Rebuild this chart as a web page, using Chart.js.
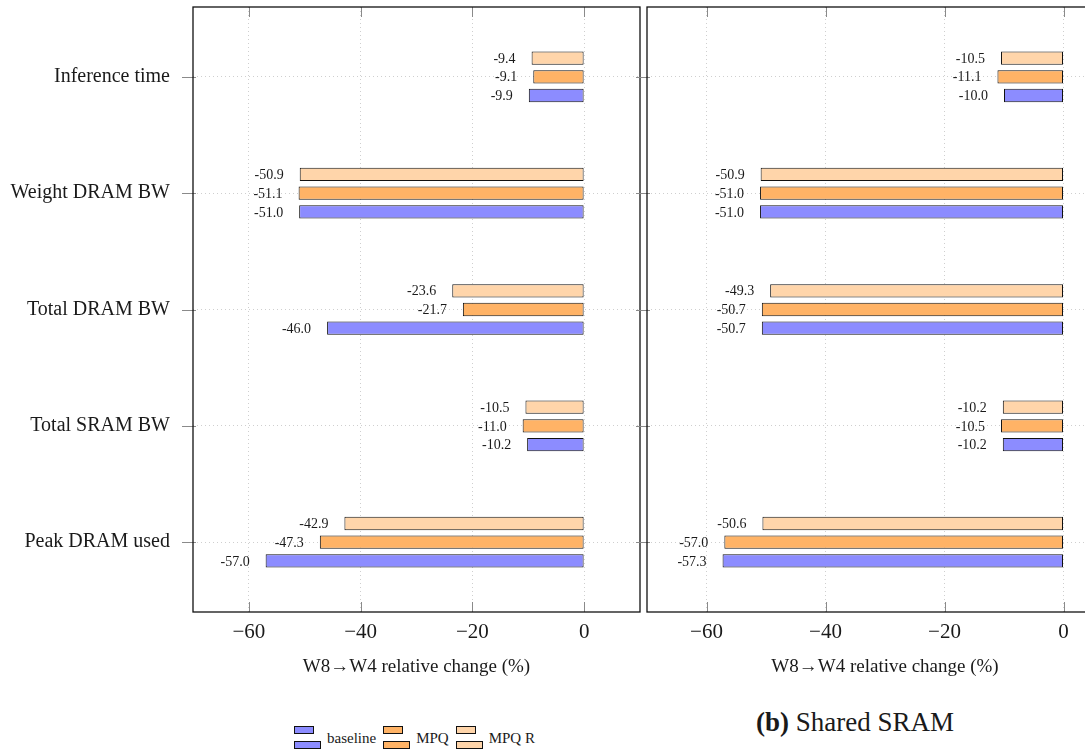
<!DOCTYPE html>
<html>
<head>
<meta charset="utf-8">
<script src="https://cdn.jsdelivr.net/npm/chart.js@4.4.1/dist/chart.umd.min.js"></script>
<style>
html,body{margin:0;padding:0;background:#fff;overflow:hidden;width:1085px;height:753px;}
body{position:relative;font-family:'Liberation Serif','DejaVu Serif',serif;color:#1a1a1a;}
#chartA{position:absolute;left:0;top:0;}
#chartB{position:absolute;left:630px;top:0;}
#legend{position:absolute;left:294px;top:726px;display:flex;align-items:center;font-size:15px;}
.sw{position:relative;width:27px;height:24px;}
.sw div{position:absolute;left:0;height:6px;border:1px solid #111;}
.sw .t{top:0;width:18px;}
.sw .b{top:15px;width:25px;}
.lab{margin:0 7px 0 6px;line-height:24px;}
#caption{position:absolute;left:756px;top:709px;font-size:27px;line-height:27px;white-space:nowrap;}
</style>
</head>
<body>
<canvas id="chartA" width="645" height="700"></canvas>
<canvas id="chartB" width="495" height="700"></canvas>
<div id="legend"></div>
<div id="caption"><b>(b)</b> Shared SRAM</div>
<script>
// categories (top to bottom) and x ticks
const categories = ['Inference time','Weight DRAM BW','Total DRAM BW','Total SRAM BW','Peak DRAM used'];
const xTickValues = [-60,-40,-20,0];

// left panel
const baselineA = [-9.9,-51.0,-46.0,-10.2,-57.0];
const mpqA      = [-9.1,-51.1,-21.7,-11.0,-47.3];
const mpqRA     = [-9.4,-50.9,-23.6,-10.5,-42.9];

// (b) shared SRAM
const baselineB = [-10.0,-51.0,-50.7,-10.2,-57.3];
const mpqB      = [-11.1,-51.0,-50.7,-10.5,-57.0];
const mpqRB     = [-10.5,-50.9,-49.3,-10.2,-50.6];

const seriesNames = ['baseline','MPQ','MPQ R'];
const seriesColors = ['#8c8cff','#ffb366','#ffd5aa'];

const FONT = "'Liberation Serif','DejaVu Serif',serif";
const TXT = '#1a1a1a';

// numbers next to the bar ends
const valueLabels = {
  id:'valueLabels',
  afterDatasetsDraw(chart){
    const ctx = chart.ctx;
    ctx.save();
    ctx.font = '14px ' + FONT;
    ctx.fillStyle = TXT;
    ctx.textAlign = 'right';
    ctx.textBaseline = 'middle';
    chart.data.datasets.forEach((ds,di)=>{
      chart.getDatasetMeta(di).data.forEach((bar,i)=>{
        ctx.fillText(ds.data[i].x.toFixed(1), bar.x - 16, bar.y + 1);
      });
    });
    ctx.restore();
  }
};

// pgfplots-like frame and tick marks
const framePlugin = {
  id:'frame',
  afterDraw(chart){
    const {ctx, chartArea:a, scales:{x,y}} = chart;
    ctx.save();
    ctx.strokeStyle = '#8a8a8a';
    ctx.lineWidth = 1;
    ctx.beginPath();
    x.ticks.forEach(t=>{
      const px = Math.round(x.getPixelForValue(t.value)) + 0.5;
      ctx.moveTo(px, a.top); ctx.lineTo(px, a.top + 10);
      ctx.moveTo(px, a.bottom); ctx.lineTo(px, a.bottom - 10);
    });
    y.ticks.forEach(t=>{
      const py = Math.round(y.getPixelForValue(t.value)) + 0.5;
      ctx.moveTo(a.left - 11, py); ctx.lineTo(a.left + 3, py);
    });
    ctx.stroke();
    ctx.strokeStyle = '#111';
    ctx.lineWidth = 1.3;
    ctx.strokeRect(a.left, a.top, a.right - a.left, a.bottom - a.top);
    ctx.restore();
  }
};

function makeChart(id, baseline, mpq, mpqR, yWidth, padRight, showLabels){
  // dataset 0 is drawn at the top of each group
  const order = [[mpqR,2],[mpq,1],[baseline,0]];
  return new Chart(document.getElementById(id), {
    type:'bar',
    data:{
      datasets: order.map(([vals,k])=>({
        label: seriesNames[k],
        data: vals.map((v,i)=>({x:v, y:i})),
        backgroundColor: seriesColors[k],
        borderColor:'#111',
        borderWidth:1,
        borderSkipped:false,
        categoryPercentage:0.482,
        barPercentage:0.71
      }))
    },
    options:{
      indexAxis:'y',
      responsive:false,
      animation:false,
      layout:{padding:{top:7,right:padRight,left:0,bottom:0}},
      plugins:{legend:{display:false},tooltip:{enabled:false}},
      scales:{
        x:{
          type:'linear', min:-70, max:10, offset:false,
          afterBuildTicks: s=>{ s.ticks = xTickValues.map(v=>({value:v})); },
          afterFit: s=>{ s.height = 88; },
          grid:{color:'#cfcfcf', drawTicks:false, offset:false},
          border:{display:false, dash:[1,3]},
          ticks:{padding:8, color:TXT, font:{family:FONT,size:21}, maxRotation:0,
                 callback: v=> v<0 ? '\u2212' + Math.abs(v) : String(v)},
          title:{display:true, text:'W8\u2192W4 relative change (%)', color:TXT,
                 font:{family:FONT,size:19}, padding:{top:0,bottom:22}}
        },
        y:{
          type:'linear', min:-0.6, max:4.6, reverse:true, offset:false,
          afterBuildTicks: s=>{ s.ticks = categories.map((c,i)=>({value:i})); },
          afterFit: s=>{ s.width = yWidth; s.paddingTop = 0; s.paddingBottom = 0; },
          grid:{color:'#cfcfcf', drawTicks:false, offset:false},
          border:{display:false, dash:[1,3]},
          ticks:{display:showLabels, padding:23, color:TXT, font:{family:FONT,size:20},
                 callback: v=> categories[v]}
        }
      }
    },
    plugins:[valueLabels, framePlugin]
  });
}

makeChart('chartA', baselineA, mpqA, mpqRA, 193, 5, true);
makeChart('chartB', baselineB, mpqB, mpqRB, 17, 2, false);

// legend
const legendEl = document.getElementById('legend');
seriesNames.forEach((name,k)=>{
  legendEl.insertAdjacentHTML('beforeend',
    '<div class="sw"><div class="t" style="background:'+seriesColors[k]+'"></div>' +
    '<div class="b" style="background:'+seriesColors[k]+'"></div></div>' +
    '<span class="lab">'+name+'</span>');
});
</script>
</body>
</html>
